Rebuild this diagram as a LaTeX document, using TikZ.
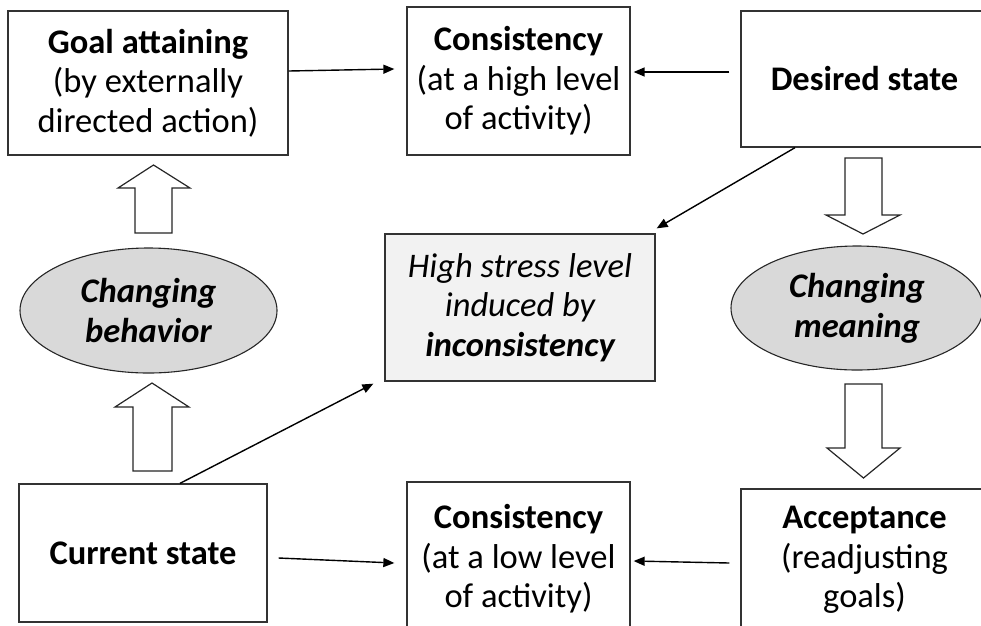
\documentclass[tikz,border=0pt]{standalone}
\usepackage{fontspec}
\setmainfont{Carlito}
\usetikzlibrary{arrows.meta,shapes.geometric}
\begin{document}
\begin{tikzpicture}[x=1pt,y=-1pt,
  box/.style={draw=black!80, line width=1.3pt, fill=white, align=center,
    inner sep=0pt, font=\fontsize{34.5}{39.5}\selectfont},
  stressbox/.style={box, fill=black!5, font=\fontsize{34.5}{39.5}\selectfont\itshape},
  oval/.style={ellipse, draw=black!85, line width=1.1pt, fill=black!15,
    inner sep=0pt, align=center, font=\fontsize{34.5}{40}\selectfont\bfseries\itshape},
  link/.style={line width=1.4pt, -{Triangle[length=11pt,width=9pt]}},
  fat/.style={draw=black!85, line width=1.2pt, fill=white, line join=miter}]

\clip (0,0) rectangle (981,625);

% boxes
\node[box, minimum width=280pt, minimum height=144pt] (goal) at (148,83)
  {\textbf{Goal attaining}\\(by externally\\directed action)};
\node[box, minimum width=223pt, minimum height=148pt] (conshigh) at (518.5,81)
  {\textbf{Consistency}\\(at a high level\\of activity)};
\node[box, minimum width=247pt, minimum height=136pt] (desired) at (864.5,79)
  {\textbf{Desired state}};
\node[stressbox, minimum width=270pt, minimum height=147pt] (stress) at (520,307.5)
  {High stress level\\induced by\\\textbf{inconsistency}};
\node[box, minimum width=248pt, minimum height=138pt] (current) at (143,553)
  {\textbf{Current state}};
\node[box, minimum width=223pt, minimum height=154pt] (conslow) at (518.5,559)
  {\textbf{Consistency}\\(at a low level\\of activity)};
\node[box, minimum width=247pt, minimum height=142pt] (accept) at (864.5,560)
  {\textbf{Acceptance}\\(readjusting\\goals)};

% ellipses
\node[oval, minimum width=257pt, minimum height=125pt] (behavior) at (148.5,310.5)
  {Changing\\behavior};
\node[oval, minimum width=252pt, minimum height=124pt] (meaning) at (857,308)
  {Changing\\meaning};

% block arrows
\draw[fat] (135,233) -- (135,188) -- (118,188) -- (153.5,165) -- (190,188)
  -- (172,188) -- (172,233) -- cycle;
\draw[fat] (133,471) -- (133,407) -- (115,407) -- (152,383) -- (189,407)
  -- (172,407) -- (172,471) -- cycle;
\draw[fat] (845,158) -- (882,158) -- (882,215) -- (900,215) -- (863,234)
  -- (826,215) -- (845,215) -- cycle;
\draw[fat] (845,384) -- (882,384) -- (882,448) -- (900,448) -- (863.5,478)
  -- (827,448) -- (845,448) -- cycle;

% connectors
\draw[link] ([yshift=12pt]goal.east) -- ([xshift=-12pt,yshift=12pt]conshigh.west);
\draw[link] ([xshift=-11pt,yshift=7pt]desired.west) -- ([xshift=3pt,yshift=9pt]conshigh.east);
\draw[link] ([xshift=11pt,yshift=-5pt]current.east) -- ([xshift=-12pt,yshift=-4pt]conslow.west);
\draw[link] ([xshift=-11pt,yshift=-3pt]accept.west) -- ([xshift=3pt,yshift=-2pt]conslow.east);
\draw[link] ([xshift=-69.5pt]desired.south) -- ([xshift=1pt,yshift=5pt]stress.north east);
\draw[link] ([xshift=37pt]current.north) -- ([xshift=-11pt,yshift=-2pt]stress.south west);
\end{tikzpicture}
\end{document}
